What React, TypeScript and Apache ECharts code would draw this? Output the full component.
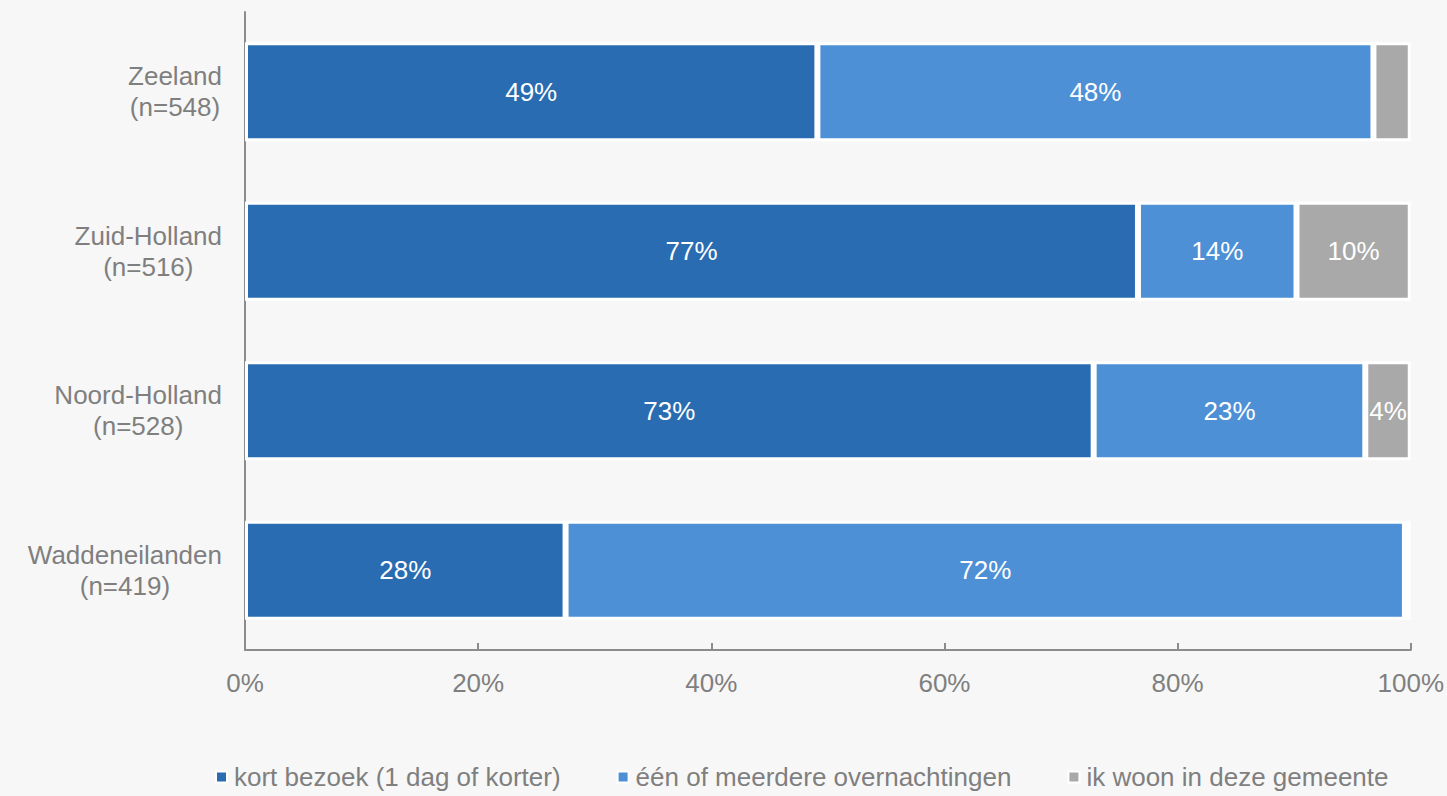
import React, { useEffect, useRef } from "react";
import * as echarts from "echarts";

const categories = ["Zeeland|(n=548)", "Zuid-Holland|(n=516)", "Noord-Holland|(n=528)", "Waddeneilanden|(n=419)"];
const kortBezoek = [49.1, 76.6, 72.8, 27.5];
const overnachtingen = [47.7, 13.6, 23.3, 72.0];
const woonHier = [3.2, 9.8, 3.9, 0.5];
const seriesNames = ["kort bezoek (1 dag of korter)", "één of meerdere overnachtingen", "ik woon in deze gemeente"];
const colors = ["#2A6CB1", "#4D90D6", "#A9A9A9"];

export default function App() {
  const ref = useRef<HTMLDivElement>(null);
  useEffect(() => {
    if (!ref.current) return;
    const chart = echarts.init(ref.current, null, { renderer: "svg" });
    const font = "'Liberation Sans', Arial, sans-serif";
    const mk = (name: string, data: number[], color: string) => ({
      name,
      type: "bar",
      stack: "total",
      data,
      barWidth: 99,
      itemStyle: { color, borderColor: "#ffffff", borderWidth: 3 },
      label: {
        show: true,
        position: "inside",
        color: "#ffffff",
        fontSize: 26,
        fontFamily: font,
        formatter: (p: any) => (p.value < 3.5 ? "" : Math.round(p.value) + "%"),
      },
    });
    chart.setOption({
      animation: false,
      backgroundColor: "#F7F7F7",
      color: colors,
      grid: { left: 245, right: 34, top: 12, bottom: 146 },
      legend: {
        bottom: 1,
        left: 210,
        itemWidth: 11,
        itemHeight: 11,
        itemGap: 56,
        icon: "rect",
        itemStyle: { borderColor: "#ffffff", borderWidth: 2 },
        textStyle: { color: "#7F7F7F", fontSize: 26, fontFamily: font, padding: [0, 0, 0, 2] },
        data: seriesNames,
      },
      xAxis: {
        type: "value",
        min: 0,
        max: 100,
        interval: 20,
        axisLine: { show: true, lineStyle: { color: "#8C8C8C", width: 2 } },
        axisTick: { show: true, inside: true, length: 7, lineStyle: { color: "#8C8C8C", width: 2 } },
        splitLine: { show: false },
        axisLabel: { color: "#7F7F7F", fontSize: 26, fontFamily: font, margin: 20, formatter: "{value}%" },
      },
      yAxis: {
        type: "category",
        inverse: true,
        data: categories,
        axisLine: { show: true, lineStyle: { color: "#8C8C8C", width: 2 } },
        axisTick: { show: false },
        axisLabel: {
          color: "#7F7F7F",
          fontSize: 26,
          fontFamily: font,
          margin: 23,
          align: "right",
          formatter: (v: string) => v.split("|").map((s) => "{c|" + s + "}").join("\n"),
          rich: { c: { align: "center", fontSize: 26, fontFamily: font, color: "#7F7F7F", lineHeight: 31 } },
        },
      },
      series: [
        mk(seriesNames[0], kortBezoek, colors[0]),
        mk(seriesNames[1], overnachtingen, colors[1]),
        mk(seriesNames[2], woonHier, colors[2]),
      ],
    });
    return () => chart.dispose();
  }, []);
  return <div ref={ref} style={{ width: 1447, height: 796, position: "absolute", left: 0, top: 0 }} />;
}
